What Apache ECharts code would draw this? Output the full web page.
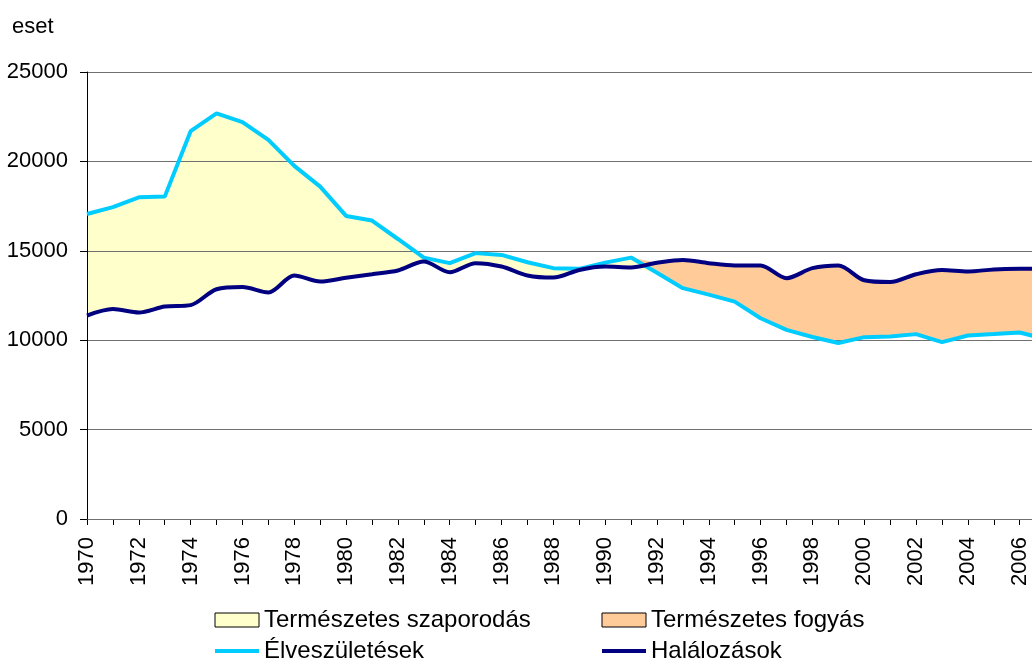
<!DOCTYPE html>
<html><head><meta charset="utf-8">
<script src="https://cdn.jsdelivr.net/npm/echarts@6/dist/echarts.min.js"></script>
<style>html,body{margin:0;padding:0;background:#fff}#c{width:1032px;height:661px}</style>
</head><body><div id="c"></div>
<script>
const years = ['1970','1971','1972','1973','1974','1975','1976','1977','1978','1979','1980','1981','1982','1983','1984','1985','1986','1987','1988','1989','1990','1991','1992','1993','1994','1995','1996','1997','1998','1999','2000','2001','2002','2003','2004','2005','2006','2007'];
const births = [17060,17440,17990,18030,21690,22690,22200,21200,19750,18590,16950,16690,15660,14620,14310,14870,14770,14360,14030,13990,14340,14620,13770,12910,12550,12160,11230,10580,10180,9840,10170,10210,10340,9890,10260,10340,10430,10070];
const deaths = [11380,11740,11550,11880,11960,12850,12970,12670,13620,13280,13490,13690,13900,14400,13800,14310,14120,13620,13500,13930,14120,14070,14330,14490,14310,14180,14180,13470,14030,14180,13350,13250,13690,13930,13840,13960,13990,13990];
const yTicks = [0,5000,10000,15000,20000,25000];

const FONT = 'Liberation Sans, Arial, sans-serif';
const baseData = births.map((b,i)=>Math.min(b, deaths[i]));
const growData = births.map((b,i)=>Math.max(b-deaths[i], 0));
const lossData = births.map((b,i)=>Math.max(deaths[i]-b, 0));

const chart = echarts.init(document.getElementById('c'), null, {renderer:'canvas'});
const legendCommon = {orient: 'vertical', top: 608, height: 90, padding: 0, itemWidth: 44, itemHeight: 14, itemGap: 7,
  textStyle: {fontSize: 24, color: '#000', fontFamily: FONT, lineHeight: 24}, lineStyle: {width: 4}};
const areaItem = name => ({name, icon: 'rect', itemStyle: {borderColor: '#000', borderWidth: 1}});
const lineItem = (name, c) => ({name, itemStyle: {opacity: 0, color: 'rgba(0,0,0,0)', borderWidth: 0}, lineStyle: {width: 4, color: c, opacity: 1}});
chart.setOption({
  animation: false,
  backgroundColor: '#fff',
  textStyle: {fontFamily: FONT},
  title: {text: 'eset', left: 12, top: 16, padding: 0, textStyle: {fontSize: 22, fontWeight: 'normal', color: '#000', fontFamily: FONT}},
  grid: {left: 87, right: -13.6, top: 72, bottom: 142, outerBoundsMode: 'none', containLabel: false},
  xAxis: {
    type: 'category', data: years, boundaryGap: false,
    axisLine: {show: true, lineStyle: {color: '#808080', width: 1}},
    axisTick: {show: true, length: 6, interval: 0, lineStyle: {color: '#000'}},
    splitLine: {show: false},
    axisLabel: {rotate: 90, fontSize: 22, color: '#000', margin: 18, fontFamily: FONT, interval: 1}
  },
  yAxis: {
    type: 'value', min: 0, max: 25000, interval: 5000, z: 2,
    axisLine: {show: true, lineStyle: {color: '#000', width: 1}},
    axisTick: {show: true, length: 7, lineStyle: {color: '#000'}},
    splitLine: {show: true, lineStyle: {color: '#707070', width: 1}},
    axisLabel: {fontSize: 22, color: '#000', margin: 19, fontFamily: FONT,
      formatter: v => yTicks.indexOf(v) >= 0 ? String(v) : ''}
  },
  legend: [
    Object.assign({left: 213, data: [areaItem('Természetes szaporodás'), lineItem('Élveszületések', '#00CCFF')]}, legendCommon),
    Object.assign({left: 600, data: [areaItem('Természetes fogyás'), lineItem('Halálozások', '#000080')]}, legendCommon)
  ],
  series: [
    {name: 'base', type: 'line', stack: 'gap', data: baseData, symbol: 'none', z: 1,
     lineStyle: {width: 0, opacity: 0}, silent: true},
    {name: 'Természetes szaporodás', type: 'line', stack: 'gap', data: growData, symbol: 'none', z: 1,
     color: '#FFFFCC', lineStyle: {width: 0, opacity: 0}, areaStyle: {color: '#FFFFCC', opacity: 1}},
    {name: 'Természetes fogyás', type: 'line', stack: 'gap', data: lossData, symbol: 'none', z: 1,
     color: '#FFCC99', lineStyle: {width: 0, opacity: 0}, areaStyle: {color: '#FFCC99', opacity: 1}},
    {name: 'Élveszületések', type: 'line', data: births, symbol: 'none', z: 3,
     color: '#00CCFF', lineStyle: {color: '#00CCFF', width: 4}},
    {name: 'Halálozások', type: 'line', data: deaths, symbol: 'none', z: 4, smooth: 0.3,
     color: '#000080', lineStyle: {color: '#000080', width: 4}}
  ]
});
</script></body></html>
